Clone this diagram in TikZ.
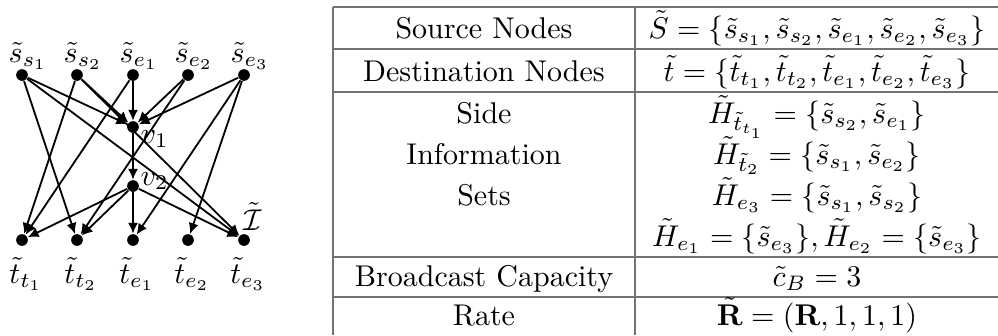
\documentclass[tikz,border=0pt]{standalone}
\usetikzlibrary{arrows.meta}
\usepackage{amsmath}
\begin{document}
\begin{tikzpicture}[x=0.3333pt,y=-0.3333pt,
  dot/.style={circle,fill=black,inner sep=0pt,minimum size=3.9pt},
  arr/.style={-{Latex[length=3.6pt,width=3.4pt]},line width=0.6pt},
  lab/.style={anchor=base,inner sep=0pt},
  tline/.style={draw=black!55,line width=0.45pt},
  cell/.style={anchor=base,inner sep=0pt}]
\useasboundingbox (0,0) rectangle (998,335);
% graph nodes
\node[dot] (ss1) at (22,75) {};
\node[dot] (ss2) at (77,75) {};
\node[dot] (se1) at (133,75) {};
\node[dot] (se2) at (188,75) {};
\node[dot] (se3) at (244,75) {};
\node[dot] (v1) at (133,127) {};
\node[dot] (v2) at (133,186) {};
\node[dot] (tt1) at (22,240) {};
\node[dot] (tt2) at (77,240) {};
\node[dot] (te1) at (133,240) {};
\node[dot] (te2) at (188,240) {};
\node[dot] (te3) at (244,240) {};
% labels
\node[lab] (lss1) at (28,62) {$\tilde{s}_{s_1}$};
\node[lab] (lss2) at (83,62) {$\tilde{s}_{s_2}$};
\node[lab] (lse1) at (139,62) {$\tilde{s}_{e_1}$};
\node[lab] (lse2) at (194,62) {$\tilde{s}_{e_2}$};
\node[lab] (lse3) at (250,62) {$\tilde{s}_{e_3}$};
\node[lab] (ltt1) at (26,283) {$\tilde{t}_{t_1}$};
\node[lab] (ltt2) at (81,283) {$\tilde{t}_{t_2}$};
\node[lab] (lte1) at (137,283) {$\tilde{t}_{e_1}$};
\node[lab] (lte2) at (192,283) {$\tilde{t}_{e_2}$};
\node[lab] (lte3) at (248,283) {$\tilde{t}_{e_3}$};
\node[anchor=base west,inner sep=0pt] (lv1) at (140,143) {$v_1$};
\node[anchor=base west,inner sep=0pt] (lv2) at (140,185) {$v_2$};
\node[lab] (lI) at (253,230) {$\tilde{\mathcal{I}}$};
% edges
\foreach \s in {ss1,ss2,se1,se2,se3} \draw[arr] (\s) -- (v1);
\draw[arr] (v1) -- (v2);
\foreach \t in {tt1,tt2,te1,te3} \draw[arr] (v2) -- (\t);
\draw[arr] (ss1) -- (tt2);
\draw[arr] (ss1) -- (te3);
\draw[arr] (ss2) -- (tt1);
\draw[arr] (ss2) -- (te3);
\draw[arr] (se1) -- (tt1);
\draw[arr] (se2) -- (tt2);
\draw[arr] (se3) -- (te1);
\draw[arr] (se3) -- (te2);
% table lines
\coordinate (tl) at (333,7);
\coordinate (tr) at (998,7);
\draw[tline] (tl) -- (tr);
\draw[tline] (333,49) -- (998,49);
\draw[tline] (333,92) -- (998,92);
\draw[tline] (333,257) -- (998,257);
\draw[tline] (333,297) -- (998,297);
\draw[tline] (tl) -- (333,335);
\draw[tline] (635,7) -- (635,335);
% table text
\node[cell] (c11) at (484,38) {Source Nodes};
\node[cell] (c12) at (817,38) {$\tilde{S}=\{\tilde{s}_{s_1},\tilde{s}_{s_2},\tilde{s}_{e_1},\tilde{s}_{e_2},\tilde{s}_{e_3}\}$};
\node[cell] (c21) at (484,81) {Destination Nodes};
\node[cell] (c22) at (817,81) {$\tilde{t}=\{\tilde{t}_{t_1},\tilde{t}_{t_2},\tilde{t}_{e_1},\tilde{t}_{e_2},\tilde{t}_{e_3}\}$};
\node[cell] (c31) at (484,123) {Side};
\node[cell] (c32) at (484,164) {Information};
\node[cell] (c33) at (484,205) {Sets};
\node[cell] (d31) at (817,123) {$\tilde{H}_{\tilde{t}_{t_1}}=\{\tilde{s}_{s_2},\tilde{s}_{e_1}\}$};
\node[cell] (d32) at (817,164) {$\tilde{H}_{\tilde{t}_2}=\{\tilde{s}_{s_1},\tilde{s}_{e_2}\}$};
\node[cell] (d33) at (817,205) {$\tilde{H}_{e_3}=\{\tilde{s}_{s_1},\tilde{s}_{s_2}\}$};
\node[cell] (d34) at (817,246) {$\tilde{H}_{e_1}=\{\tilde{s}_{e_3}\},\tilde{H}_{e_2}=\{\tilde{s}_{e_3}\}$};
\node[cell] (c41) at (484,286) {Broadcast Capacity};
\node[cell] (c42) at (817,286) {$\tilde{c}_B=3$};
\node[cell] (c51) at (484,325) {Rate};
\node[cell] (c52) at (817,325) {$\tilde{\mathbf{R}}=(\mathbf{R},1,1,1)$};
\end{tikzpicture}
\end{document}
